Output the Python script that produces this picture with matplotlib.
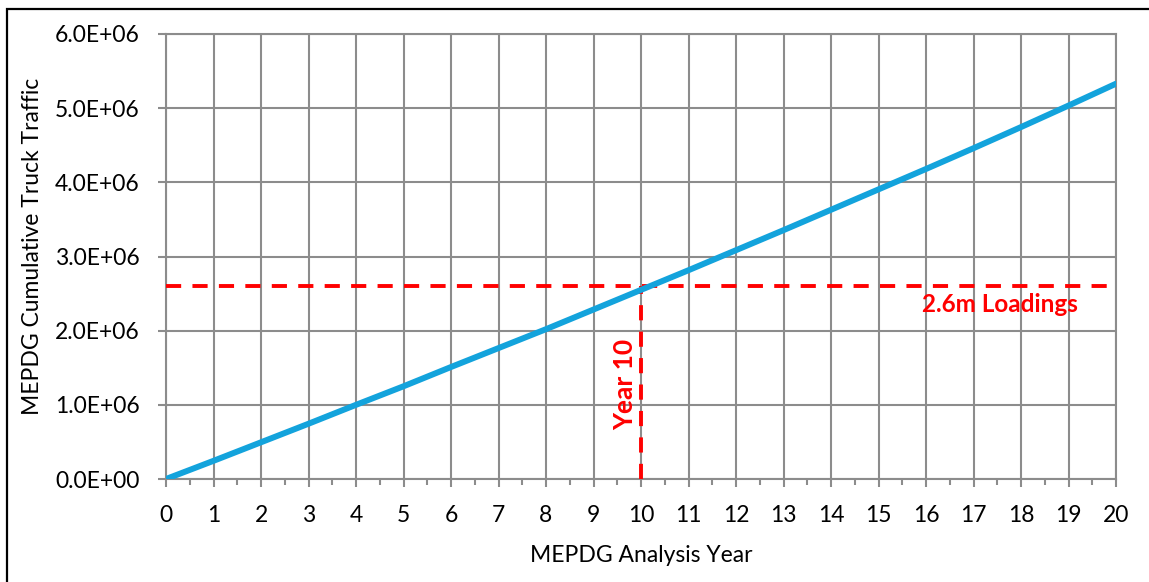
import matplotlib
matplotlib.use("Agg")
import matplotlib.pyplot as plt
from matplotlib.patches import Rectangle
from matplotlib.ticker import MultipleLocator, FuncFormatter

# Cumulative truck traffic by analysis year
years = list(range(0, 21))
cumulative_traffic = [0.0, 0.245e6, 0.495e6, 0.745e6, 1.0e6, 1.25e6, 1.51e6,
                      1.765e6, 2.02e6, 2.285e6, 2.55e6, 2.815e6, 3.085e6,
                      3.355e6, 3.63e6, 3.905e6, 4.18e6, 4.46e6, 4.745e6,
                      5.035e6, 5.33e6]

target_loadings = 2.6e6
target_year = 10
loadings_label = "2.6m Loadings"
year_label = "Year 10"

plt.rcParams['font.family'] = ['Lato', 'DejaVu Sans']

W, H = 1149, 582
fig = plt.figure(figsize=(W / 100, H / 100), dpi=100)
ax = fig.add_axes([166 / W, 1 - 479 / H, (1116 - 166) / W, (479 - 34) / H])

# outer frame of the chart area
fig.patches.append(Rectangle((7 / W, -0.1), 1.2, 1 - 9 / H + 0.1,
                             transform=fig.transFigure, fill=False,
                             edgecolor='black', linewidth=1.6))

grid_c = '#8c8c8c'
ax.plot(years, cumulative_traffic, color='#13a3dc', linewidth=4.3,
        solid_capstyle='round', zorder=4)

dash = (0, (3.9, 2.9))
ax.plot([0, 20], [target_loadings, target_loadings], color='#ff0000',
        linestyle=dash, linewidth=2.8, zorder=3)
ax.plot([target_year, target_year], [0, target_loadings], color='#ff0000',
        linestyle=dash, linewidth=2.8, zorder=3)

ax.text(19.2, 2.35e6, loadings_label, color='#ff0000', fontsize=17.5,
        fontweight='bold', ha='right', va='center')
ax.text(9.66, 1.27e6, year_label, color='#ff0000', fontsize=19,
        fontweight='bold', ha='center', va='center', rotation=90)

ax.set_xlim(0, 20)
ax.set_ylim(0, 6e6)
ax.xaxis.set_major_locator(MultipleLocator(1))
ax.xaxis.set_minor_locator(MultipleLocator(0.5))
ax.yaxis.set_major_locator(MultipleLocator(1e6))
ax.yaxis.set_major_formatter(FuncFormatter(
    lambda v, p: "{:.1E}".format(v)))

ax.grid(True, which='major', color=grid_c, linewidth=1.5, zorder=1)
for s in ax.spines.values():
    s.set_color(grid_c)
    s.set_linewidth(1.5)

ax.tick_params(axis='both', which='major', direction='out', length=6,
               width=1.5, color=grid_c, labelsize=16.5)
ax.tick_params(axis='y', which='major', pad=13)
ax.tick_params(axis='x', which='major', pad=13)
ax.tick_params(axis='x', which='minor', direction='out', length=4.3,
               width=1.5, color=grid_c)

ax.set_xlabel("MEPDG Analysis Year", fontsize=16.5, va='center')
ax.set_ylabel("MEPDG Cumulative Truck Traffic", fontsize=16.5, va='center')
ax.xaxis.set_label_coords(0.5, (479 - 555) / 445)
ax.yaxis.set_label_coords((33 - 166) / 950, (479 - 246) / 445)

fig.savefig("out.png", dpi=100)
